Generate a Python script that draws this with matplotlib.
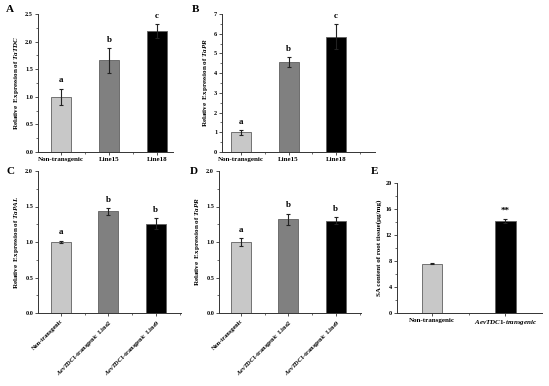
import matplotlib
matplotlib.use("Agg")
import matplotlib.pyplot as plt
from matplotlib.ticker import MultipleLocator, FixedLocator

plt.rcParams['font.family'] = ['Liberation Serif', 'DejaVu Serif']
plt.rcParams['font.weight'] = 'bold'
plt.rcParams['mathtext.fontset'] = 'custom'
plt.rcParams['mathtext.it'] = 'Liberation Serif:italic:bold'
plt.rcParams['mathtext.rm'] = 'Liberation Serif:bold'
plt.rcParams['mathtext.bf'] = 'Liberation Serif:bold'

cats_ab = ["Non-transgenic", "Line15", "Line18"]
cats_cd = ["Non-transgenic", r"$\it{AevTDC1}$-transgenic  Line2", r"$\it{AevTDC1}$-transgenic  Line9"]
cats_e = ["Non-transgenic", r"$\it{AevTDC1\text{-}transgenic}$"]

a_vals = [1.00, 1.66, 2.19]
a_err = [0.15, 0.23, 0.13]
a_sig = ["a", "b", "c"]

b_vals = [1.00, 4.55, 5.85]
b_err = [0.12, 0.25, 0.65]
b_sig = ["a", "b", "c"]

c_vals = [1.00, 1.43, 1.26]
c_err = [0.02, 0.05, 0.08]
c_sig = ["a", "b", "b"]

d_vals = [1.00, 1.32, 1.30]
d_err = [0.05, 0.08, 0.05]
d_sig = ["a", "b", "b"]

e_vals = [7.6, 14.2]
e_err = [0.1, 0.3]
e_sig = ["", "**"]

colors3 = ["#c8c8c8", "#808080", "#000000"]
colors2 = ["#c8c8c8", "#000000"]

W, H = 549, 386
fig = plt.figure(figsize=(W / 100, H / 100), dpi=100)

def ax_at(l, r, t, b):
    return fig.add_axes([l / W, 1 - b / H, (r - l) / W, (b - t) / H])

def panel(ax, cats, vals, errs, sigs, colors, xlim, ylim, major, minor, width,
          ylabel, rot=0, fmt="{:.1f}", letter_off=0.03):
    x = list(range(len(cats)))
    ax.bar(x, vals, width=width, color=colors, edgecolor="#606060", linewidth=0.6, zorder=2)
    ax.errorbar(x, vals, yerr=errs, fmt="none", ecolor="#222222", elinewidth=0.8,
                capsize=1.5, capthick=0.8, zorder=3)
    rng = ylim[1] - ylim[0]
    for xi, v, e, s in zip(x, vals, errs, sigs):
        if s:
            ax.text(xi, v + e + letter_off * rng, s, ha="center", va="bottom",
                    fontsize=6.5, fontweight="bold")
    ax.set_xlim(*xlim)
    ax.set_ylim(*ylim)
    ax.spines["top"].set_visible(False)
    ax.spines["right"].set_visible(False)
    for sp in ("left", "bottom"):
        ax.spines[sp].set_linewidth(0.7)
        ax.spines[sp].set_color("#333333")
    ax.yaxis.set_major_locator(MultipleLocator(major))
    ax.yaxis.set_minor_locator(MultipleLocator(minor))
    ax.set_yticklabels([fmt.format(t) for t in ax.get_yticks()])
    ax.xaxis.set_major_locator(FixedLocator(x))
    ax.xaxis.set_minor_locator(FixedLocator([xi + 0.5 for xi in x[:-1]] + ([x[-1] + 0.5] if xlim[1] > x[-1] + 0.5 else [])))
    ax.tick_params(axis="both", which="major", length=2, width=0.6, labelsize=4.5, pad=1.5, color="#333333")
    ax.tick_params(axis="both", which="minor", length=1.2, width=0.5, color="#333333")
    if rot:
        ax.set_xticklabels(cats, rotation=rot, ha="right", rotation_mode="anchor", fontsize=4.5)
    else:
        ax.set_xticklabels(cats, fontsize=5)
    ax.set_ylabel(ylabel, fontsize=5, fontweight="bold", labelpad=3)

axA = ax_at(38, 173, 14, 152)
panel(axA, cats_ab, a_vals, a_err, a_sig, colors3, (-0.48, 2.33), (0, 2.5), 0.5, 0.25, 0.42,
      r"Relative  Expression of $\it{TaTDC}$")
axB = ax_at(222, 375, 14, 152)
panel(axB, cats_ab, b_vals, b_err, b_sig, colors3, (-0.4, 2.82), (0, 7), 1, 0.5, 0.42,
      r"Relative  Expression of $\it{TaPR}$", fmt="{:.0f}")
axC = ax_at(38, 181, 171, 313)
panel(axC, cats_cd, c_vals, c_err, c_sig, colors3, (-0.48, 2.53), (0, 2.0), 0.5, 0.25, 0.42,
      r"Relative  Expression of $\it{TaPAL}$", rot=45)
axD = ax_at(219, 361, 171, 313)
panel(axD, cats_cd, d_vals, d_err, d_sig, colors3, (-0.46, 2.53), (0, 2.0), 0.5, 0.25, 0.42,
      r"Relative  Expression of $\it{TaPR}$", rot=45)
axE = ax_at(397, 542, 183, 313)
panel(axE, cats_e, e_vals, e_err, e_sig, colors2, (-0.48, 1.5), (0, 20), 4, 2, 0.28,
      "SA content of root tissue(\u03bcg/mg)", fmt="{:.0f}")

for lab, (px, py) in zip("ABCDE", [(10, 10), (195, 10), (10, 172), (194, 172), (375, 172)]):
    fig.text(px / W, 1 - py / H, lab, fontsize=8, fontweight="bold", ha="center", va="center")

fig.savefig("out.png", dpi=100)
